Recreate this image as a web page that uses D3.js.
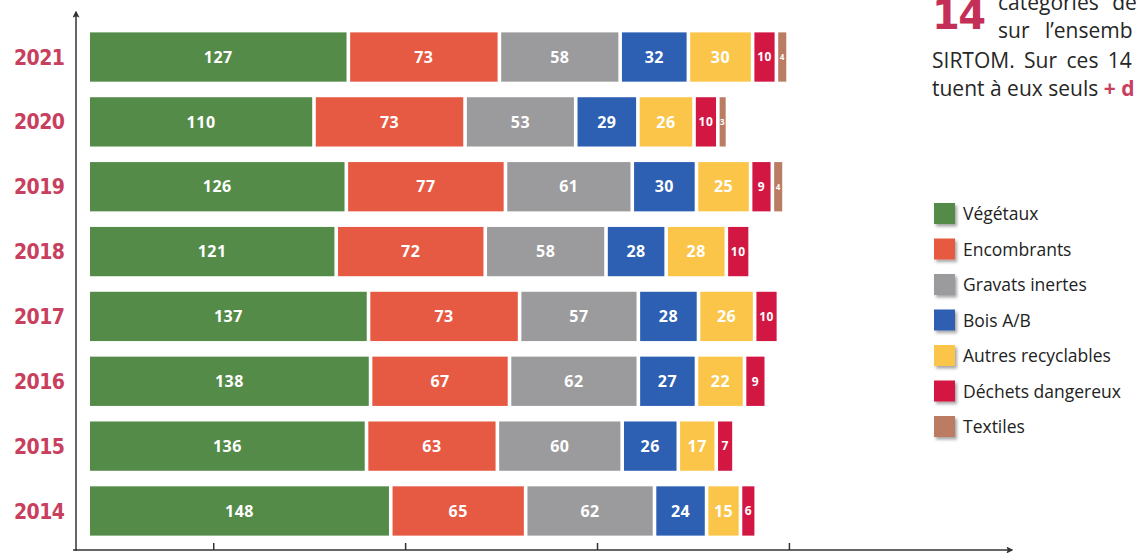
<!DOCTYPE html>
<html>
<head>
<meta charset="utf-8">
<script src="https://cdn.jsdelivr.net/npm/d3@7"></script>
<style>
  body { margin: 0; background: #fff; }
  svg { display: block; overflow: hidden; }
</style>
</head>
<body>
<div id="chart"></div>
<script>
// Data (tonnes per year, by category)
var years = ["2021", "2020", "2019", "2018", "2017", "2016", "2015", "2014"];
var categories = ["Végétaux", "Encombrants", "Gravats inertes", "Bois A/B", "Autres recyclables", "Déchets dangereux", "Textiles"];
var vegetaux = [127, 110, 126, 121, 137, 138, 136, 148];
var encombrants = [73, 73, 77, 72, 73, 67, 63, 65];
var gravats = [58, 53, 61, 58, 57, 62, 60, 62];
var bois = [32, 29, 30, 28, 28, 27, 26, 24];
var autres = [30, 26, 25, 28, 26, 22, 17, 15];
var dangereux = [10, 10, 9, 10, 10, 9, 7, 6];
var textiles = [4, 3, 4, 0, 0, 0, 0, 0];
var xTicks = [61, 156, 251, 346];

var colors = ["#548b48", "#e65a43", "#9b9b9d", "#2d5fb2", "#fbc54a", "#d31743", "#bb7c64"];
var series = [vegetaux, encombrants, gravats, bois, autres, dangereux, textiles];

// SVG area
var svgWidth = 1139;
var svgHeight = 553;
var gap = 3.6;

var svg = d3.select("#chart")
  .append("svg")
  .attr("width", svgWidth)
  .attr("height", svgHeight);

var defs = svg.append("defs");
defs.append("marker")
  .attr("id", "arrow")
  .attr("viewBox", "0 0 10 10")
  .attr("refX", 8).attr("refY", 5)
  .attr("markerWidth", 7).attr("markerHeight", 7)
  .attr("markerUnits", "userSpaceOnUse")
  .attr("orient", "auto")
  .append("path")
  .attr("d", "M0,0 L10,5 L0,10 L2,5 Z")
  .attr("fill", "#333");

var shadow = defs.append("filter").attr("id", "shadow")
  .attr("x", "-20%").attr("y", "-20%").attr("width", "160%").attr("height", "160%");
shadow.append("feDropShadow")
  .attr("dx", 2).attr("dy", 2.5).attr("stdDeviation", 1.5)
  .attr("flood-color", "#000").attr("flood-opacity", 0.35);

// table for the stack
var table = years.map(function(y, i) {
  var row = { year: y };
  categories.forEach(function(c, j) { row[c] = series[j][i]; });
  return row;
});

var stacked = d3.stack().keys(categories)(table);

// scales
var xScale = d3.scaleLinear()
  .domain([0, 400])
  .range([90, 90 + 400 * 2.02]);

var yScale = d3.scaleBand()
  .domain(years)
  .range([24.6, 543.4])
  .paddingInner(0.24)
  .paddingOuter(0.12);

// bars
var groups = svg.selectAll("g.layer")
  .data(stacked)
  .enter()
  .append("g")
  .attr("class", "layer")
  .attr("fill", function(d, i) { return colors[i]; });

groups.each(function(layer, k) {
  var g = d3.select(this);
  var segs = layer.filter(function(d) { return d[1] - d[0] > 0; });

  g.selectAll("rect")
    .data(segs)
    .enter()
    .append("rect")
    .attr("x", function(d) { return xScale(d[0]) + k * gap; })
    .attr("y", function(d) { return yScale(d.data.year); })
    .attr("width", function(d) { return xScale(d[1]) - xScale(d[0]); })
    .attr("height", yScale.bandwidth());

  g.selectAll("text")
    .data(segs)
    .enter()
    .append("text")
    .attr("x", function(d) { return (xScale(d[0]) + xScale(d[1])) / 2 + k * gap; })
    .attr("y", function(d) { return yScale(d.data.year) + yScale.bandwidth() / 2; })
    .attr("dy", "0.36em")
    .attr("text-anchor", "middle")
    .attr("fill", "#fff")
    .attr("font-family", "'Open Sans', sans-serif")
    .attr("font-weight", "bold")
    .attr("letter-spacing", 0.5)
    .attr("font-size", function(d) {
      var w = xScale(d[1]) - xScale(d[0]);
      return w < 12 ? "8px" : (w < 26 ? "12px" : "16px");
    })
    .text(function(d) { return d[1] - d[0]; });
});

// year labels
svg.selectAll("text.year")
  .data(years)
  .enter()
  .append("text")
  .attr("class", "year")
  .attr("x", 65)
  .attr("y", function(d) { return yScale(d) + yScale.bandwidth() / 2; })
  .attr("dy", "0.36em")
  .attr("text-anchor", "end")
  .attr("fill", "#c8405e")
  .attr("font-family", "'DejaVu Sans', sans-serif")
  .attr("font-weight", "bold")
  .attr("font-stretch", "condensed")
  .attr("font-size", "21px")
  .attr("textLength", 51)
  .text(function(d) { return d; });

// axes
var bottomAxis = d3.axisBottom(xScale)
  .tickValues(xTicks)
  .tickSize(-7)
  .tickFormat("");

var axisG = svg.append("g")
  .attr("transform", "translate(0, 550)")
  .call(bottomAxis);
axisG.select(".domain").remove();
axisG.selectAll("line").attr("stroke", "#333").attr("stroke-width", 1.5);

svg.append("line")
  .attr("x1", 73).attr("y1", 550)
  .attr("x2", 1012).attr("y2", 550)
  .attr("stroke", "#333").attr("stroke-width", 1.5)
  .attr("marker-end", "url(#arrow)");

svg.append("line")
  .attr("x1", 76).attr("y1", 551)
  .attr("x2", 76).attr("y2", 12)
  .attr("stroke", "#333").attr("stroke-width", 1.5)
  .attr("marker-end", "url(#arrow)");

// legend
var legend = svg.append("g")
  .attr("transform", "translate(934, 214)");

var items = legend.selectAll("g")
  .data(categories)
  .enter()
  .append("g")
  .attr("transform", function(d, i) { return "translate(0," + (i * 35.5) + ")"; });

items.append("rect")
  .attr("x", 0).attr("y", -11)
  .attr("width", 21).attr("height", 21)
  .attr("fill", function(d, i) { return colors[i]; })
  .attr("filter", "url(#shadow)");

items.append("text")
  .attr("x", 29)
  .attr("y", 0)
  .attr("dy", "0.36em")
  .attr("fill", "#222")
  .attr("font-family", "'Open Sans', sans-serif")
  .attr("font-size", "17.5px")
  .text(function(d) { return d; });

// text block top right (cut by the page edge, as in the source)
var note = svg.append("g")
  .attr("font-family", "'Open Sans', sans-serif")
  .attr("font-size", "21px")
  .attr("font-weight", 500)
  .attr("fill", "#262626");

note.append("text")
  .attr("x", 932).attr("y", 29)
  .attr("fill", "#c42f57")
  .attr("font-family", "'DejaVu Sans', sans-serif")
  .attr("font-weight", "bold")
  .attr("font-size", "40px")
  .attr("textLength", 54)
  .text("14");

note.append("text").attr("x", 998).attr("y", 10).attr("word-spacing", 8).text("catégories de");
note.append("text").attr("x", 998).attr("y", 38).attr("word-spacing", 10).text("sur l’ensemb");
note.append("text").attr("x", 932).attr("y", 68).attr("word-spacing", 4).text("SIRTOM.  Sur ces 14");

var last = note.append("text").attr("x", 932).attr("y", 96);
last.append("tspan").text("tuent à eux seuls ");
last.append("tspan").attr("fill", "#c8405e").attr("font-weight", "bold").text("+ d");
</script>
</body>
</html>
